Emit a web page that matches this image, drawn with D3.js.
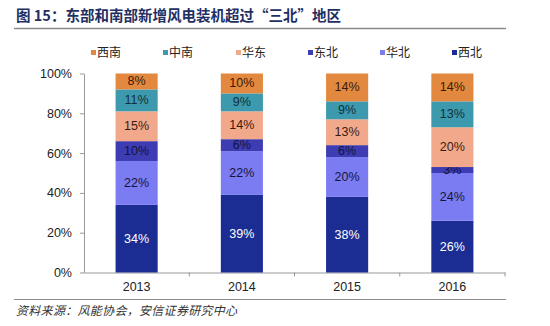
<!DOCTYPE html>
<html><head><meta charset="utf-8">
<script src="https://cdn.jsdelivr.net/npm/d3@7"></script>
<style>
body{margin:0;background:#fff;}
svg{display:block;font-family:"Liberation Sans",Arial,sans-serif;}
</style></head>
<body><svg id="c" width="550" height="326"></svg>
<script>
const years = ["2013","2014","2015","2016"];
const seriesNames = ["西北","华北","东北","华东","中南","西南"];
const xibei   = [34,39,38,26];
const huabei  = [22,22,20,24];
const dongbei = [10,6,6,3];
const huadong = [15,14,13,20];
const zhongnan= [11,9,9,13];
const xinan   = [8,10,14,14];
const legendOrder = ["西南","中南","华东","东北","华北","西北"];
const yTicks = [0,20,40,60,80,100];
const colors = {"西北":"#1b2d93","华北":"#7b7cf2","东北":"#3d3cb3","华东":"#f2a98b","中南":"#3d9aae","西南":"#e2893f"};
const labelColors = {"西北":"#ffffff","华北":"#14143a","东北":"#14143a","华东":"#3a1a10","中南":"#10303a","西南":"#3a1a08"};

const rows = years.map((y,i)=>({year:y,"西北":xibei[i],"华北":huabei[i],"东北":dongbei[i],"华东":huadong[i],"中南":zhongnan[i],"西南":xinan[i]}));
const stack = d3.stack().keys(seriesNames)(rows);

const svg = d3.select("#c");
const pLeft=84, pRight=505, pTop=73.5, pBottom=272.5;
const x = d3.scaleBand().domain(years).range([pLeft,pRight]).paddingInner(0.6).paddingOuter(0.3);
const xAxisScale = d3.scaleBand().domain(years).range([pLeft,pRight]);
const y = d3.scaleLinear().domain([0,100]).range([pBottom,pTop]);

// Title
svg.append("text").attr("x",16).attr("y",21).attr("fill","#1f2f63")
  .style("font-family","'Noto Sans CJK SC',sans-serif").style("font-weight","bold").style("font-size","14.5px")
  .text("图 15：东部和南部新增风电装机超过“三北”地区");
svg.append("line").attr("x1",14).attr("x2",506).attr("y1",28.5).attr("y2",28.5).attr("stroke","#8a8a8a").attr("stroke-width",1.5);

// Legend
const legendX = [91,163,236,308,380,452];
legendOrder.forEach((k,i)=>{
  svg.append("rect").attr("x",legendX[i]).attr("y",50).attr("width",5).attr("height",5).attr("fill",colors[k]);
  svg.append("text").attr("x",legendX[i]+6).attr("y",57).attr("fill","#222")
    .style("font-family","'Noto Sans CJK SC',sans-serif").style("font-size","12px").text(k);
});

// Axes
const yAxis = svg.append("g").attr("transform",`translate(${pLeft},0)`)
  .call(d3.axisLeft(y).tickValues(yTicks).tickFormat(d=>d+"%").tickSize(4).tickSizeOuter(0));
yAxis.select(".domain").attr("stroke","#999");
yAxis.selectAll(".tick line").attr("stroke","#999");
yAxis.selectAll(".tick text").attr("fill","#222").style("font-size","12.5px").attr("x",-12);

const xAxis = svg.append("g").attr("transform",`translate(0,${pBottom})`)
  .call(d3.axisBottom(xAxisScale).tickSize(0).tickSizeOuter(0));
xAxis.select(".domain").attr("stroke","#999");
xAxis.selectAll(".tick text").attr("fill","#222").style("font-size","12.5px").attr("dy","1.2em");
years.forEach((yr,i)=>{
  const bx = xAxisScale(yr)+xAxisScale.bandwidth();
  svg.append("line").attr("x1",bx).attr("x2",bx).attr("y1",pBottom).attr("y2",pBottom+4).attr("stroke","#999");
});

// Bars
const g = svg.append("g");
stack.forEach(s=>{
  const key = s.key;
  s.forEach((d,i)=>{
    const yr = years[i];
    g.append("rect").attr("x",x(yr)).attr("width",x.bandwidth())
      .attr("y",y(d[1])).attr("height",y(d[0])-y(d[1])).attr("fill",colors[key]);
    g.append("text").attr("x",x(yr)+x.bandwidth()/2).attr("y",(y(d[0])+y(d[1]))/2)
      .attr("text-anchor","middle").attr("dominant-baseline","central")
      .attr("fill",labelColors[key]).style("font-size","12.5px")
      .text((d[1]-d[0])+"%");
  });
});

// Footer
svg.append("line").attr("x1",14).attr("x2",506).attr("y1",299.5).attr("y2",299.5).attr("stroke","#8a8a8a").attr("stroke-width",1);
svg.append("text").attr("x",16).attr("y",315).attr("fill","#333")
  .style("font-family","'Noto Sans CJK SC',sans-serif").style("font-style","italic").style("font-size","12px").style("letter-spacing","0.3px")
  .text("资料来源：风能协会，安信证券研究中心");
</script></body></html>
